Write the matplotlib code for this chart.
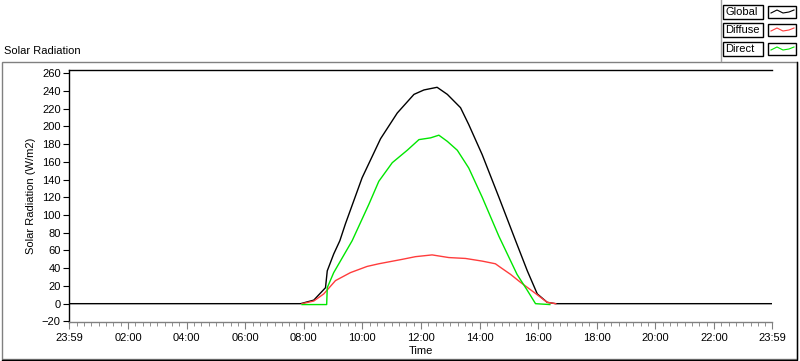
import numpy as np
import matplotlib.pyplot as plt
from matplotlib.patches import Rectangle
from matplotlib.lines import Line2D

plt.rcParams['font.family'] = ['Liberation Sans', 'DejaVu Sans']
plt.rcParams['font.size'] = 8

# data (hours from midnight)
global_t = [-1/60, 7.89, 8.34, 8.74, 8.80, 9.02, 9.23, 9.42, 9.99, 10.62, 11.19, 11.76, 12.10,
            12.55, 12.90, 13.35, 13.63, 14.09, 14.66, 15.23, 15.63, 15.97, 16.31, 16.6, 24 - 1/60]
global_v = [0, 0, 4, 18, 37, 56, 71, 90, 142, 186, 215, 236, 241,
            244, 236, 221, 202, 168, 120, 71, 37, 11, 1.5, 0, 0]

diffuse_t = [7.94, 8.34, 8.68, 9.08, 9.59, 10.16, 10.56, 11.36, 11.81, 12.38,
             12.95, 13.52, 14.09, 14.54, 14.71, 15.06, 15.40, 15.85, 16.31, 16.6]
diffuse_v = [0, 3, 11, 26, 35, 42, 45, 50, 53, 55,
             52, 51, 48, 45, 41, 33, 24, 13, 1.5, 0]

direct_t = [7.94, 8.78, 8.80, 9.02, 9.65, 10.22, 10.56, 11.02, 11.53, 11.93, 12.33,
            12.61, 12.90, 13.24, 13.63, 14.09, 14.66, 15.28, 15.63, 15.91, 16.4]
direct_v = [-1, -1, 18, 35, 71, 112, 138, 159, 173, 185, 187,
            190, 183, 173, 153, 120, 76, 33, 15, 0, -1]

series = ["Global", "Diffuse", "Direct"]
colors = ["black", "#ff3c3c", "#00e600"]

x_ticks = [-1/60, 2, 4, 6, 8, 10, 12, 14, 16, 18, 20, 22, 24 - 1/60]
x_labels = ["23:59", "02:00", "04:00", "06:00", "08:00", "10:00", "12:00",
            "14:00", "16:00", "18:00", "20:00", "22:00", "23:59"]
y_ticks = list(range(-20, 261, 20))

W, H = 800, 361
fig = plt.figure(figsize=(8, 3.61), dpi=100)
ax = fig.add_axes([69 / W, 1 - 322.3 / H, (772 - 69) / W, (322.3 - 70) / H])

ax.plot(global_t, global_v, color=colors[0], lw=1.0)
ax.plot(diffuse_t, diffuse_v, color=colors[1], lw=1.0)
ax.plot(direct_t, direct_v, color=colors[2], lw=1.0)

ax.set_xlim(-1/60, 24 - 1/60)
ax.set_ylim(-21, 263.5)
ax.set_xticks(x_ticks)
ax.set_xticklabels(x_labels)
ax.set_xticks(np.arange(0.25, 24, 0.25), minor=True)
ax.set_yticks(y_ticks)
ax.tick_params(axis='x', which='major', length=5, color='#808080', pad=3)
ax.tick_params(axis='x', which='minor', length=3, color='#808080')
ax.tick_params(axis='y', length=4, color='black', pad=2)

ax.spines['left'].set_color('black')
ax.spines['top'].set_color('black')
ax.spines['bottom'].set_color('#808080')
ax.spines['right'].set_visible(False)
for s in ax.spines.values():
    s.set_linewidth(1.0)

ax.set_xlabel("Time", labelpad=2)
ax.set_ylabel("Solar Radiation (W/m2)", labelpad=4)

# outer panel
fig.patches.append(Rectangle((2 / W, 1 - 359 / H), 795 / W, 297 / H, transform=fig.transFigure,
                             fill=False, edgecolor='#808080', lw=1))
fig.lines.append(Line2D([2 / W, 797 / W, 797 / W], [1 - 360 / H, 1 - 360 / H, 1 - 62 / H],
                        transform=fig.transFigure, color='black', lw=1))
fig.lines.append(Line2D([721 / W, 721 / W], [1, 1 - 61 / H], transform=fig.transFigure,
                        color='#a0a0a0', lw=1))
fig.text(4 / W, 1 - 51 / H, "Solar Radiation", ha='left', va='center')

# legend
rows = [12, 30, 49]
for name, c, yc in zip(series, colors, rows):
    fig.patches.append(Rectangle((723 / W, 1 - (yc + 7) / H), 40 / W, 14 / H,
                                 transform=fig.transFigure, fill=False, edgecolor='black', lw=1))
    fig.text(725 / W, 1 - yc / H, name, ha='left', va='center')
    fig.patches.append(Rectangle((768 / W, 1 - (yc + 6) / H), 28 / W, 12 / H,
                                 transform=fig.transFigure, fill=False, edgecolor='black', lw=1))
    zx = np.array([771, 777, 783, 789, 794]) / W
    zy = 1 - (yc + np.array([1, -2, 1, 0, -2])) / H
    fig.lines.append(Line2D(zx, zy, transform=fig.transFigure, color=c, lw=0.8))

plt.savefig("out.png", dpi=100)
